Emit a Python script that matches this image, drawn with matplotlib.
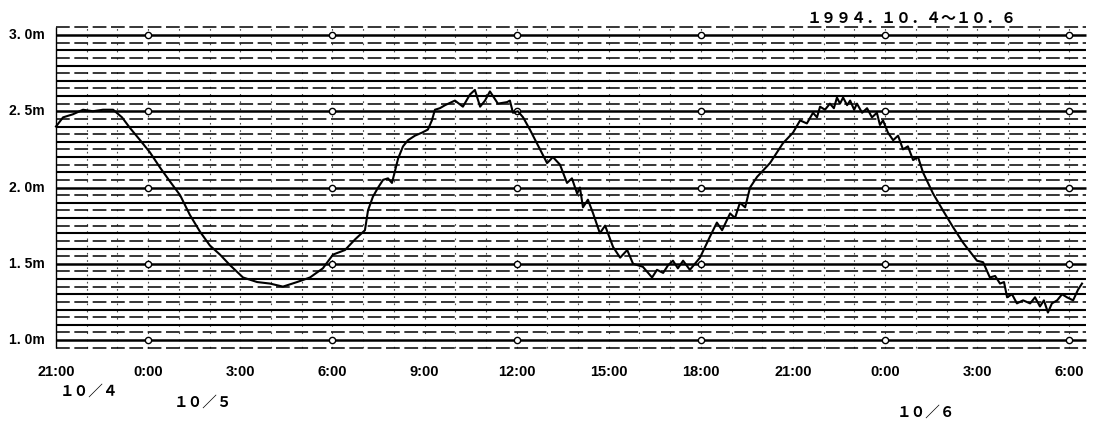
import matplotlib
matplotlib.use("Agg")
import matplotlib.pyplot as plt
import numpy as np

# ---- data (hours since 10/4 21:00, tide level in m) ----
t_hours = [0.00, 0.23, 0.55, 0.88, 1.20, 1.53, 1.86, 2.15, 2.41, 2.74,
           3.06, 3.39, 3.71, 4.04, 4.36, 4.69, 5.01, 5.34, 5.67, 6.09,
           6.55, 6.97, 7.39, 7.85, 8.27, 8.69, 9.02, 9.41, 9.74, 10.06,
           10.16, 10.32, 10.49, 10.65, 10.81, 10.94, 11.04, 11.14, 11.30, 11.46,
           11.69, 11.92, 12.11, 12.24, 12.34, 12.50, 12.67, 12.99,
           13.25, 13.48, 13.64, 13.81, 13.97, 14.13, 14.39, 14.69, 14.78, 14.88,
           15.04, 15.21, 15.43, 15.66, 15.99, 16.09, 16.18, 16.41, 16.64, 16.80,
           16.97, 17.06, 17.16, 17.32, 17.49, 17.71, 17.88, 18.14, 18.37, 18.60,
           18.79, 19.11, 19.41, 19.57, 19.77, 19.93, 20.09, 20.25, 20.42, 20.64,
           20.97, 21.30, 21.52, 21.69, 21.95, 22.11, 22.27, 22.44, 22.60, 22.83,
           23.25, 23.67, 24.00, 24.23, 24.45, 24.65, 24.78, 24.88, 25.04, 25.20,
           25.33, 25.43, 25.53, 25.63, 25.76, 25.86, 25.99, 26.08, 26.25, 26.41,
           26.57, 26.73, 26.83, 26.93, 27.09, 27.26, 27.42, 27.58, 27.74, 27.91,
           28.07, 28.23, 28.56, 28.88, 29.21, 29.53, 29.99, 30.19, 30.41, 30.58,
           30.74, 30.87, 30.97, 31.13, 31.29, 31.49, 31.72, 31.88, 32.04, 32.17,
           32.30, 32.43, 32.60, 32.76, 32.92, 33.12, 33.28, 33.41]
level_m = [2.40, 2.46, 2.48, 2.51, 2.50, 2.51, 2.51, 2.46, 2.39, 2.31,
           2.23, 2.13, 2.04, 1.95, 1.82, 1.71, 1.62, 1.56, 1.49, 1.41,
           1.38, 1.37, 1.35, 1.38, 1.41, 1.47, 1.56, 1.59, 1.66, 1.72,
           1.85, 1.94, 2.00, 2.05, 2.06, 2.03, 2.11, 2.19, 2.27, 2.31,
           2.34, 2.36, 2.38, 2.44, 2.51, 2.52, 2.54, 2.57,
           2.53, 2.61, 2.64, 2.53, 2.57, 2.63, 2.55, 2.56, 2.57, 2.49,
           2.50, 2.46, 2.38, 2.29, 2.16, 2.18, 2.20, 2.15, 2.03, 2.06,
           1.96, 2.00, 1.87, 1.92, 1.83, 1.70, 1.75, 1.61, 1.54, 1.59,
           1.50, 1.48, 1.41, 1.46, 1.44, 1.49, 1.52, 1.47, 1.52, 1.46,
           1.54, 1.68, 1.77, 1.72, 1.83, 1.80, 1.90, 1.87, 2.00, 2.07,
           2.16, 2.29, 2.36, 2.44, 2.42, 2.49, 2.46, 2.53, 2.51, 2.55,
           2.52, 2.59, 2.55, 2.59, 2.54, 2.57, 2.51, 2.55, 2.49, 2.52,
           2.46, 2.49, 2.41, 2.44, 2.36, 2.31, 2.34, 2.25, 2.27, 2.18,
           2.20, 2.10, 1.96, 1.85, 1.74, 1.64, 1.52, 1.51, 1.41, 1.42,
           1.37, 1.38, 1.28, 1.30, 1.24, 1.26, 1.24, 1.28, 1.22, 1.26,
           1.18, 1.24, 1.26, 1.30, 1.28, 1.26, 1.33, 1.37]

tick_hours = [0, 3, 6, 9, 12, 15, 18, 21, 24, 27, 30, 33]
tick_labels = ["21:00", "0:00", "3:00", "6:00", "9:00", "12:00",
               "15:00", "18:00", "21:00", "0:00", "3:00", "6:00"]
y_levels = [3.0, 2.5, 2.0, 1.5, 1.0]
y_labels = ["3. 0m", "2. 5m", "2. 0m", "1. 5m", "1. 0m"]
marker_hours = [3, 9, 15, 21, 27, 33]
date_labels = ["１０／４", "１０／５", "１０／６"]
title_text = "１９９４．１０．４～１０．６"

# ---- figure ----
W, H = 1097, 421
fig = plt.figure(figsize=(W / 100, H / 100), dpi=100)
fig.patch.set_facecolor("white")

px_per_h = 30.71
x0_px = 56.0
def px2h(x):
    return (x - x0_px) / px_per_h
def y2px(h):
    return 35 + (3.0 - h) * 152.5

ax_l, ax_r = 50, 1090
ax_t, ax_b = 20, 355
ax = fig.add_axes([ax_l / W, 1 - ax_b / H, (ax_r - ax_l) / W, (ax_b - ax_t) / H])
ax.set_xlim(px2h(ax_l), px2h(ax_r))
ax.set_ylim(3.0 - (ax_b - 35) / 152.5, 3.0 - (ax_t - 35) / 152.5)
for s in ax.spines.values():
    s.set_visible(False)

x_end = px2h(1086)
# chart paper horizontal lines every 0.05 m
for k in range(0, 43):
    lv = round(0.95 + 0.05 * k, 2)
    if abs(lv * 10 - round(lv * 10)) < 1e-6:
        lw = 1.8 if abs(lv * 2 - round(lv * 2)) < 1e-6 else 1.5
        ax.hlines(lv, 0, x_end, colors="black", linewidth=lw, zorder=2)
    else:
        ax.hlines(lv, 0, x_end, colors="black", linewidth=1.1,
                  linestyles=(0, (9, 3)), zorder=2)
# hourly vertical dotted lines
for hh in range(1, 34):
    ax.vlines(hh, 0.95, 3.05, colors="black", linewidth=0.8,
              linestyles=(0, (1.5, 5)), alpha=0.7, zorder=1)
ax.vlines(0, 0.95, 3.05, colors="black", linewidth=1.0, zorder=2)

# circle markers
for lv in y_levels:
    ax.plot(marker_hours, [lv] * len(marker_hours), linestyle="none",
            marker="o", markersize=4.5, markerfacecolor="white",
            markeredgecolor="black", markeredgewidth=1.0, zorder=3)

# tide curve
ax.plot(t_hours, level_m, color="black", linewidth=1.5, zorder=4)

# x tick labels
ax.set_xticks(tick_hours)
ax.set_xticklabels(tick_labels, fontsize=10.5, fontweight="bold",
                   family="Liberation Sans")
ax.tick_params(axis="x", length=0, pad=7)
ax.set_yticks([])

# y labels
for lv, lab in zip(y_levels, y_labels):
    fig.text(45 / W, 1 - y2px(lv) / H, lab, ha="right", va="center",
             fontsize=10, fontweight="bold", family="Liberation Sans")

# date labels
fam = ["Noto Sans CJK JP", "DejaVu Sans"]
fig.text(89 / W, 1 - 391 / H, date_labels[0], ha="center", va="center",
         fontsize=10.5, family=fam, fontweight="bold")
fig.text(203 / W, 1 - 402 / H, date_labels[1], ha="center", va="center",
         fontsize=10.5, family=fam, fontweight="bold")
fig.text(926 / W, 1 - 412 / H, date_labels[2], ha="center", va="center",
         fontsize=10.5, family=fam, fontweight="bold")

# title
fig.text(912 / W, 1 - 18 / H, title_text, ha="center", va="center",
         fontsize=10.8, family=fam, fontweight="bold")

fig.savefig("out.png", dpi=100, facecolor="white")
